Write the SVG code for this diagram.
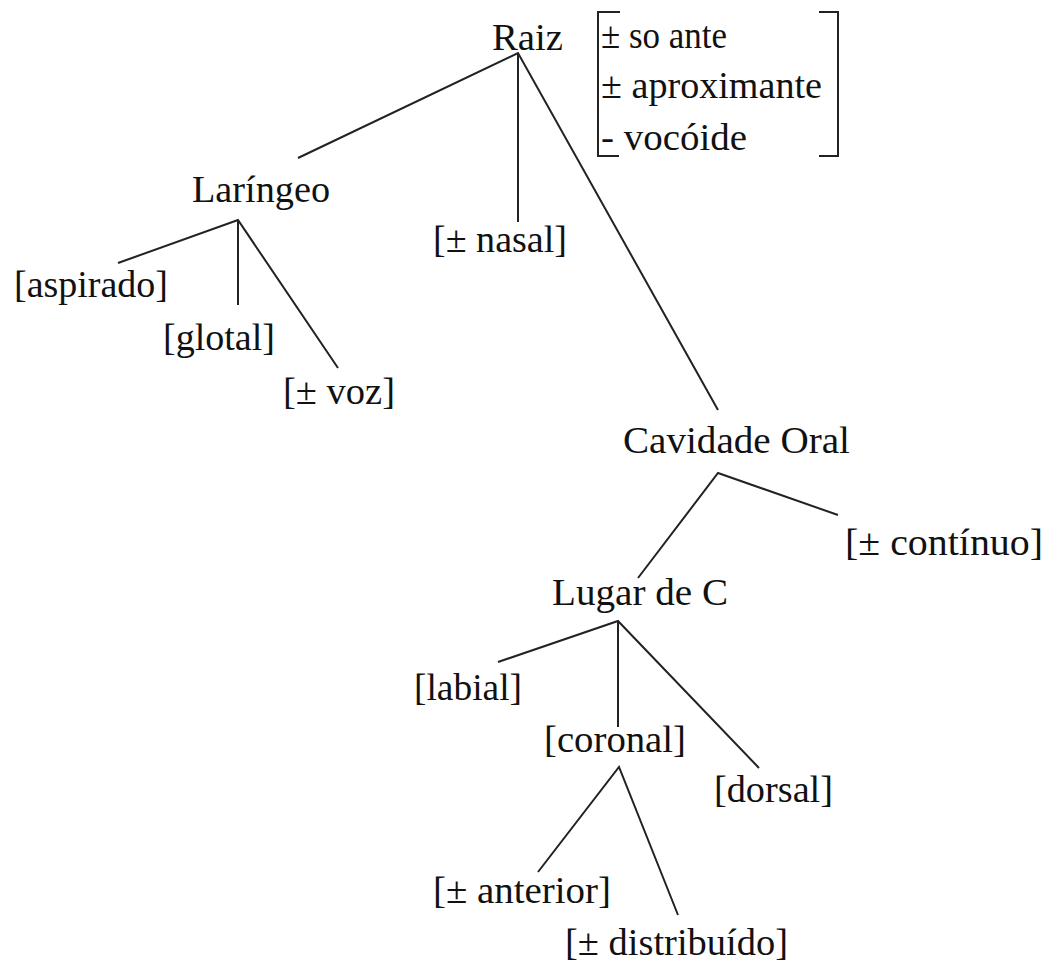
<svg xmlns="http://www.w3.org/2000/svg" width="1047" height="966" viewBox="0 0 1047 966">
<style>
.c line,.c polyline,.c path{stroke:#222;stroke-width:2;fill:none;stroke-linejoin:miter}
.br{stroke:#222;stroke-width:2;fill:none}
</style>
<rect width="1047" height="966" fill="#fff"/>
<g class="c" id="connectors">
<polyline points="298,158 518,53 718,410"/>
<line x1="518" y1="53" x2="518" y2="222"/>
<polyline points="118,263 238,220 338,368"/>
<line x1="238" y1="220" x2="238" y2="305"/>
<polyline points="638,578 718,473 838,515"/>
<polyline points="498,662 618,621 759,768"/>
<line x1="618" y1="621" x2="618" y2="727"/>
<polyline points="538,872 619,767 678,915"/>
</g>
<g id="nodes" font-family="'Liberation Serif', 'Times New Roman', 'DejaVu Serif', serif" font-size="38" fill="#111">
<g id="raiz">
<text x="492" y="50" textLength="71" lengthAdjust="spacingAndGlyphs">Raiz</text>
<g id="raiz-features">
<path class="br" d="M620,12 H598 V156 H619"/>
<path class="br" d="M819,12 H838 V156 H819"/>
<text x="601" y="48" textLength="126" lengthAdjust="spacingAndGlyphs">± so ante</text>
<text x="601" y="98" textLength="221" lengthAdjust="spacingAndGlyphs">± aproximante</text>
<text x="601" y="150" textLength="146" lengthAdjust="spacingAndGlyphs">- vocóide</text>
</g>
</g>
<g id="laringeo"><text x="192" y="202" textLength="138" lengthAdjust="spacingAndGlyphs">Laríngeo</text></g>
<g id="aspirado"><text x="14" y="297" textLength="154" lengthAdjust="spacingAndGlyphs">[aspirado]</text></g>
<g id="glotal"><text x="163" y="350" textLength="112" lengthAdjust="spacingAndGlyphs">[glotal]</text></g>
<g id="voz"><text x="283" y="404" textLength="112" lengthAdjust="spacingAndGlyphs">[± voz]</text></g>
<g id="nasal"><text x="433" y="252" textLength="134" lengthAdjust="spacingAndGlyphs">[± nasal]</text></g>
<g id="cavidade-oral"><text x="623" y="453" textLength="227" lengthAdjust="spacingAndGlyphs">Cavidade Oral</text></g>
<g id="continuo"><text x="845" y="555" textLength="198" lengthAdjust="spacingAndGlyphs">[± contínuo]</text></g>
<g id="lugar-de-c"><text x="552" y="605" textLength="176" lengthAdjust="spacingAndGlyphs">Lugar de C</text></g>
<g id="labial"><text x="414" y="700" textLength="108" lengthAdjust="spacingAndGlyphs">[labial]</text></g>
<g id="coronal"><text x="544" y="752" textLength="142" lengthAdjust="spacingAndGlyphs">[coronal]</text></g>
<g id="dorsal"><text x="714" y="802" textLength="119" lengthAdjust="spacingAndGlyphs">[dorsal]</text></g>
<g id="anterior"><text x="433" y="903" textLength="178" lengthAdjust="spacingAndGlyphs">[± anterior]</text></g>
<g id="distribuido"><text x="565" y="955" textLength="223" lengthAdjust="spacingAndGlyphs">[± distribuído]</text></g>
</g>
</svg>
